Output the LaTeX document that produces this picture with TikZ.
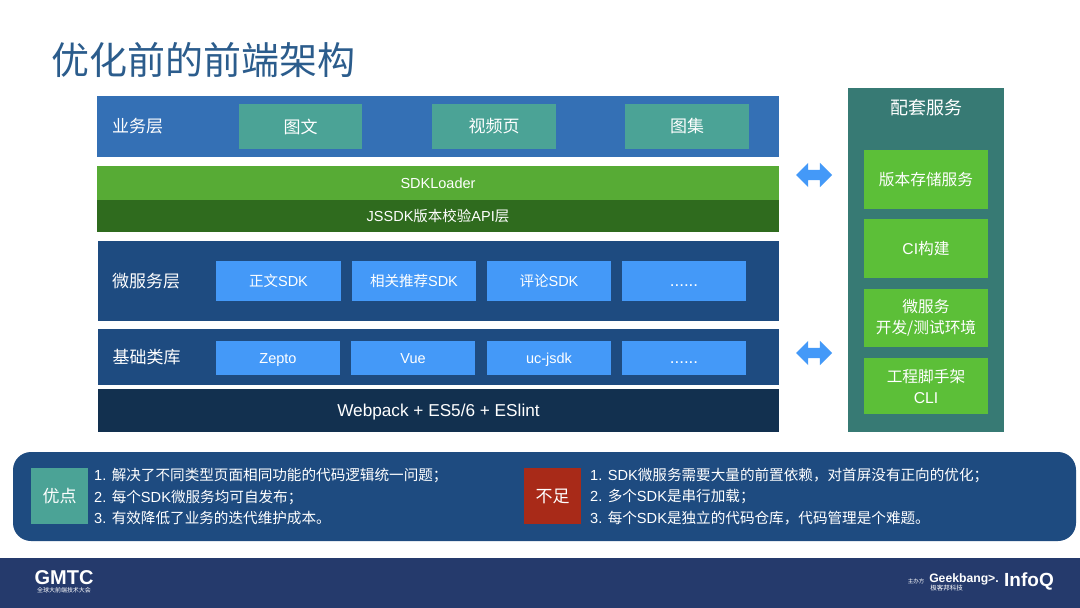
\documentclass[tikz,border=0pt]{standalone}
\usepackage{fontspec}
\usepackage{xcolor}
\usetikzlibrary{shapes.arrows}
\setmainfont{Noto Sans CJK SC}
\newfontfamily\enfont{Liberation Sans}
\newcommand{\en}[1]{{\enfont #1}}
\definecolor{titleblue}{HTML}{2B5C8C}
\definecolor{bizblue}{HTML}{3470B5}
\definecolor{loadergreen}{HTML}{57AB35}
\definecolor{apigreen}{HTML}{2F6B1E}
\definecolor{layerblue}{HTML}{1E4B80}
\definecolor{buildnavy}{HTML}{12304F}
\definecolor{tealbox}{HTML}{4BA396}
\definecolor{panelteal}{HTML}{377A74}
\definecolor{skyblue}{HTML}{4499F8}
\definecolor{servicegreen}{HTML}{5CBF38}
\definecolor{footerblue}{HTML}{253A6C}
\definecolor{lackred}{HTML}{A82A18}
\tikzset{
  box/.style={anchor=north west, inner sep=0pt, outer sep=0pt, text=white, align=center},
  bandlabel/.style={anchor=west, inner sep=0pt, text=white, font=\fontsize{17}{18}\selectfont},
  cardtext/.style={font=\fontsize{17}{21}\selectfont},
  servicetext/.style={font=\fontsize{15.7}{21}\selectfont},
  latintext/.style={align=none, text height=10.5pt, text depth=0pt, font=\enfont\fontsize{14.5}{16}\selectfont},
  dotstext/.style={latintext, font=\enfont\fontsize{17}{16}\selectfont},
  noteline/.style={anchor=west, inner sep=0pt, text=white, font=\fontsize{14.6}{16}\selectfont},
  linkarrow/.style={shape=double arrow, fill=skyblue, inner sep=0pt, text height=10pt, text depth=0pt,
    minimum width=24pt, minimum height=36pt, double arrow head extend=7pt, double arrow tip angle=90}
}
\begin{document}
\begin{tikzpicture}[x=1pt, y=-1pt]
  \useasboundingbox (0,0) rectangle (1080,608);
  \fill[white] (0,0) rectangle (1080,608);

  % Title
  \node[anchor=west, inner sep=0pt, text=titleblue, font=\fontsize{38}{40}\selectfont] (title) at (51,60) {优化前的前端架构};

  % Business layer
  \node[box, fill=bizblue, minimum width=682pt, minimum height=61pt] (biz) at (97,96) {};
  \node[bandlabel] (bizlabel) at (112,126.5) {业务层};
  \node[box, cardtext, fill=tealbox, minimum width=123pt, minimum height=45pt] (pic) at (239,104) {图文};
  \node[box, cardtext, fill=tealbox, minimum width=124pt, minimum height=45pt] (video) at (432,104) {视频页};
  \node[box, cardtext, fill=tealbox, minimum width=124pt, minimum height=45pt] (album) at (625,104) {图集};

  % SDK loader and API
  \node[box, latintext, fill=loadergreen, minimum width=682pt, minimum height=34pt] (loader) at (97,166) {SDKLoader};
  \node[box, fill=apigreen, minimum width=682pt, minimum height=32pt, font=\fontsize{14.5}{16}\selectfont] (api) at (97,200) {\en{JSSDK}版本校验\en{API}层};

  % Micro service layer
  \node[box, fill=layerblue, minimum width=681pt, minimum height=80pt] (micro) at (98,241) {};
  \node[bandlabel] (microlabel) at (112,281) {微服务层};
  \node[box, fill=skyblue, minimum width=125pt, minimum height=40pt, font=\fontsize{14.5}{16}\selectfont] (body) at (216,261) {正文\en{SDK}};
  \node[box, fill=skyblue, minimum width=124pt, minimum height=40pt, font=\fontsize{14.5}{16}\selectfont] (recommend) at (352,261) {相关推荐\en{SDK}};
  \node[box, fill=skyblue, minimum width=124pt, minimum height=40pt, font=\fontsize{14.5}{16}\selectfont] (comment) at (487,261) {评论\en{SDK}};
  \node[box, dotstext, fill=skyblue, minimum width=124pt, minimum height=40pt] (moresdk) at (622,261) {......};

  % Base libraries
  \node[box, fill=layerblue, minimum width=681pt, minimum height=56pt] (base) at (98,329) {};
  \node[bandlabel] (baselabel) at (112.5,357) {基础类库};
  \node[box, latintext, fill=skyblue, minimum width=124pt, minimum height=34pt] (zepto) at (216,341) {Zepto};
  \node[box, latintext, fill=skyblue, minimum width=124pt, minimum height=34pt] (vue) at (351,341) {Vue};
  \node[box, latintext, fill=skyblue, minimum width=124pt, minimum height=34pt] (jsdk) at (487,341) {uc-jsdk};
  \node[box, dotstext, fill=skyblue, minimum width=124pt, minimum height=34pt] (morelib) at (622,341) {......};

  % Build tools
  \node[box, latintext, fill=buildnavy, minimum width=681pt, minimum height=43pt, text height=12.4pt, font=\enfont\fontsize{17.2}{19}\selectfont] (build) at (98,389) {Webpack + ES5/6 + ESlint};

  % Services panel
  \node[box, fill=panelteal, minimum width=156pt, minimum height=344pt] (panel) at (848,88) {};
  \node[inner sep=0pt, text=white, font=\fontsize{18}{20}\selectfont] (paneltitle) at (926,108) {配套服务};
  \node[box, servicetext, fill=servicegreen, minimum width=124pt, minimum height=59pt] (store) at (864,150) {版本存储服务};
  \node[box, servicetext, fill=servicegreen, minimum width=124pt, minimum height=59pt] (ci) at (864,219) {\en{CI}构建};
  \node[box, servicetext, fill=servicegreen, minimum width=124pt, minimum height=58pt] (devenv) at (864,289) {微服务\\开发/测试环境};
  \node[box, servicetext, fill=servicegreen, minimum width=124pt, minimum height=56pt] (cli) at (864,358) {工程脚手架\\\en{CLI}};

  % Link arrows
  \node[linkarrow] (uplink) at (814,175) {};
  \node[linkarrow] (downlink) at (814,353) {};

  % Notes panel
  \fill[layerblue, rounded corners=18pt] (13,452) rectangle (1076,541);
  \node[box, fill=tealbox, minimum width=57pt, minimum height=56pt, font=\fontsize{17}{18}\selectfont] (pros) at (31,468) {优点};
  \node[noteline] (pros1) at (94,476) {\en{1. }解决了不同类型页面相同功能的代码逻辑统一问题；};
  \node[noteline] (pros2) at (94,497) {\en{2. }每个\en{SDK}微服务均可自发布；};
  \node[noteline] (pros3) at (94,518) {\en{3. }有效降低了业务的迭代维护成本。};
  \node[box, fill=lackred, minimum width=57pt, minimum height=56pt, font=\fontsize{17}{18}\selectfont] (cons) at (524,468) {不足};
  \node[noteline] (cons1) at (590,476) {\en{1. SDK}微服务需要大量的前置依赖，对首屏没有正向的优化；};
  \node[noteline] (cons2) at (590,497) {\en{2. }多个\en{SDK}是串行加载；};
  \node[noteline] (cons3) at (590,518) {\en{3. }每个\en{SDK}是独立的代码仓库，代码管理是个难题。};

  % Footer
  \fill[footerblue] (0,558) rectangle (1080,608);
  \node[inner sep=0pt, text=white, font=\enfont\bfseries\fontsize{20}{20}\selectfont] (gmtc) at (64,578) {GMTC};
  \node[inner sep=0pt, text=white, font=\fontsize{6}{7}\selectfont] (gmtcsub) at (64,590) {全球大前端技术大会};
  \node[inner sep=0pt, text=white, font=\fontsize{5.5}{6}\selectfont] (host) at (916,581) {主办方};
  \node[inner sep=0pt, text=white, font=\enfont\bfseries\fontsize{12.2}{14}\selectfont] (geek) at (964,579) {Geekbang>.};
  \node[inner sep=0pt, text=white, font=\fontsize{6.5}{7}\selectfont] (geeksub) at (946.5,588) {极客邦科技};
  \node[inner sep=0pt, text=white, font=\enfont\bfseries\fontsize{19}{18}\selectfont] (infoq) at (1029,581) {InfoQ};
\end{tikzpicture}
\end{document}
